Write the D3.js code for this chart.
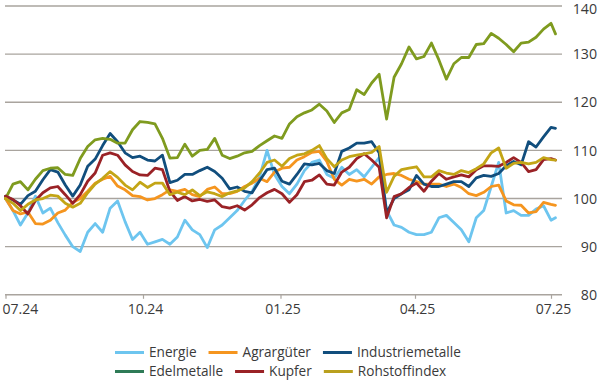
<!DOCTYPE html>
<html>
<head>
<meta charset="utf-8">
<script src="https://cdn.jsdelivr.net/npm/d3@7"></script>
<style>
  html, body { margin: 0; padding: 0; background: #ffffff; }
  svg { display: block; font-family: "Open Sans", "Noto Sans", sans-serif; }
</style>
</head>
<body>
<svg id="chart" width="600" height="380"></svg>
<script>
// ---- data ----
const dates = [
  "2024-07-01","2024-07-06","2024-07-11","2024-07-16","2024-07-21","2024-07-26","2024-07-31",
  "2024-08-05","2024-08-10","2024-08-15","2024-08-20","2024-08-25","2024-08-30",
  "2024-09-04","2024-09-09","2024-09-14","2024-09-19","2024-09-24","2024-09-29",
  "2024-10-04","2024-10-09","2024-10-14","2024-10-19","2024-10-24","2024-10-29",
  "2024-11-03","2024-11-08","2024-11-13","2024-11-18","2024-11-23","2024-11-28",
  "2024-12-03","2024-12-08","2024-12-13","2024-12-18","2024-12-23","2024-12-28",
  "2025-01-02","2025-01-07","2025-01-12","2025-01-17","2025-01-22","2025-01-27",
  "2025-02-01","2025-02-06","2025-02-11","2025-02-16","2025-02-21","2025-02-26",
  "2025-03-03","2025-03-08","2025-03-13","2025-03-18","2025-03-23","2025-03-28",
  "2025-04-02","2025-04-07","2025-04-12","2025-04-17","2025-04-22","2025-04-27",
  "2025-05-02","2025-05-07","2025-05-12","2025-05-17","2025-05-22","2025-05-27",
  "2025-06-01","2025-06-06","2025-06-11","2025-06-16","2025-06-21","2025-06-26",
  "2025-07-01","2025-07-04"
];

const energie = [100,97.5,94.5,97,100.5,97,98,95,92.4,90,89,93,94.8,93,98,99.5,95.2,91.5,93,
  90.5,91,91.5,90.5,92,95.5,93.5,92.5,89.8,93.5,94.5,96,97.5,99.6,101.5,104.5,110,105,102.5,
  101,103,105.8,107.5,108,105,104.2,106.5,105,106,104.5,106.5,108.5,97.5,94.5,94,93,92.5,
  92.5,93,96,96.5,95,93.5,91,96,97.5,102.5,107.5,97,97.5,96.5,96.5,97.8,98.5,95.5,96];

const agrargueter = [100,97.5,96.8,97.2,94.8,94.7,95.5,97,97.6,99.2,100,101.5,103.2,104,104.6,102.6,
  101.8,100.6,100.4,99.7,100,100.8,101.8,101.5,101.9,100.8,100.4,101.9,102.4,101,101,101.5,102.5,
  103.2,104.2,103.5,105.5,106.3,106.5,108,108.7,109.6,109.8,107.7,104,102.8,104,103.6,104,103,
  104.5,105,105.2,104.8,104,103.5,103,103,103,102.5,103,102.3,101,100.6,101.3,102.5,102.8,99.5,
  98.7,98.6,97,97.3,99.2,98.8,98.6];

const industriemetalle = [100.5,99.7,98.8,100.6,101.5,103.9,106,105.5,102.8,100.5,102.8,106.7,108.2,
  111,113.5,111.8,109.5,108.5,108.8,108,107.8,109,103.3,103.8,105,105,105.8,106.5,105.6,104.2,
  102,102.4,101.5,101.2,103.7,106,106.3,103.6,103,105,107.2,107,107.3,105.8,105.2,109.8,110.5,
  111.5,111.5,111.8,109.5,97,100,101,101.8,104.8,103,102.5,102.5,103,103.5,103.5,102.5,104.3,
  104.8,104.6,105.2,106.8,107.7,107,111.8,110.7,112.8,114.8,114.6];

const edelmetalle = [100,103,103.5,101.8,104,105.8,106.3,106.4,105,104.8,108.3,110.8,112.2,112.5,
  112.3,111.5,111.5,114.3,116,115.8,115.5,112.5,108.4,108.5,111.3,108.8,110,110.2,112.5,109,
  108.3,108.8,109.5,109.8,111,112,113,112.5,115.5,117,117.8,118.4,119.6,118.2,115.8,117.8,118.5,
  122.6,121.6,124,125.8,116.5,125.2,128,131.5,129,129.5,132.3,128.8,124.8,128,129.3,129.3,132,
  132.2,134.3,133.3,132,130.5,132.3,132.5,133.5,135.2,136.4,134.2];

const kupfer = [100.5,99.8,98.5,96.8,99.6,101.2,102.2,102.5,100.8,99,100.8,103.6,105.3,109,109.5,
  109,107,105.6,104.9,104.8,106.3,106,101.5,99.6,100.4,99.5,99.8,99.4,99.7,98.3,98,98.5,97.6,
  98.7,100.2,101.2,101.9,101,99.2,100.8,103.5,103.8,104.9,103,102.8,105.5,106.5,108.3,109.3,108,
  106.5,96,100.4,101,102.3,103.2,101.5,103.6,105.2,104,104.5,104.9,104.5,106,106.8,106.8,106.7,
  107.5,108.5,107.5,105.6,106,108.1,108.3,108];

const rohstoffindex = [100,99,97.5,98.8,99.7,100,100.7,100.5,99,98.2,99,101.2,103,104.2,105.6,104.4,
  102.8,101.8,103.4,102.3,103.2,103.2,100.8,101.3,100.8,101.8,100.6,101.4,101,100.4,101.2,101.6,
  102.2,103.5,105.3,107.5,108,106.7,108.3,109,109.3,110,111,108.3,106.6,108,108.7,109,109.3,109.6,
  110.8,101.3,104.6,106,106.3,106.6,104.5,104.5,105.8,105.3,105,105.8,105.4,106.2,107.2,109.5,
  110.5,106.3,107.3,107.5,107.2,107.5,108.5,108.1,108];

const seriesNames = ["Energie","Agrargüter","Industriemetalle","Edelmetalle","Kupfer","Rohstoffindex"];
const seriesValues = [energie, agrargueter, industriemetalle, edelmetalle, kupfer, rohstoffindex];
const lineColors = ["#6dc5ef","#f5951f","#114e7d","#7f9b1f","#9a2226","#c3a516"];
const legendColors = ["#6dc5ef","#f5951f","#114e7d","#2f7b57","#9a2226","#b9a01e"];

const yTicks = [80, 90, 100, 110, 120, 130, 140];
const xTickDates = ["2024-07-01","2024-10-01","2025-01-01","2025-04-01","2025-07-01"];
const xTickLabels = ["07.24","10.24","01.25","04.25","07.25"];

// ---- layout ----
const svg = d3.select("#chart");
const plotLeft = 5, plotRight = 562;
const parse = d3.timeParse("%Y-%m-%d");

const x = d3.scaleTime()
  .domain([parse("2024-07-01"), parse("2025-07-01")])
  .range([5.5, 551]);
const y = d3.scaleLinear().domain([80, 140]).range([294.8, 6]);

const textColor = "#3a3a3a";
const gridColor = "#a9a49e";

// gridlines
svg.append("g").selectAll("line")
  .data(yTicks.filter(t => t !== 80))
  .join("line")
  .attr("x1", plotLeft).attr("x2", plotRight)
  .attr("y1", d => y(d)).attr("y2", d => y(d))
  .attr("stroke", gridColor).attr("stroke-width", 1.4);

// y labels (right side)
svg.append("g").selectAll("text")
  .data(yTicks)
  .join("text")
  .attr("x", 597)
  .attr("y", d => Math.max(y(d), 8.5))
  .attr("dy", "0.36em")
  .attr("text-anchor", "end")
  .attr("font-size", 14.2)
  .attr("fill", textColor)
  .text(d => d);

// x axis
const xAxis = d3.axisBottom(x)
  .tickValues(xTickDates.map(parse))
  .tickFormat((d, i) => xTickLabels[i])
  .tickSize(4)
  .tickSizeOuter(0);

const gx = svg.append("g")
  .attr("transform", `translate(0,${y(80)})`)
  .call(xAxis);
gx.select(".domain").remove();
gx.append("line")
  .attr("x1", plotLeft).attr("x2", plotRight)
  .attr("y1", 0).attr("y2", 0)
  .attr("stroke", gridColor).attr("stroke-width", 1.4);
gx.selectAll(".tick line").attr("stroke", gridColor).attr("stroke-width", 1.2);
gx.selectAll(".tick text")
  .attr("font-size", 14)
  .attr("font-family", "Open Sans, Noto Sans, sans-serif")
  .attr("fill", textColor)
  .attr("y", 9)
  .attr("dx", (d, i) => i === 0 ? "0" : "2")
  .attr("text-anchor", (d, i) => i === 0 ? "start" : "middle")
  .attr("transform", (d, i) => i === 0 ? "translate(-3.5,0)" : null);

// lines
const line = d3.line()
  .x((d, i) => x(parse(dates[i])))
  .y(d => y(d))
  .curve(d3.curveLinear);

svg.append("g").selectAll("path")
  .data(seriesValues)
  .join("path")
  .attr("d", d => line(d))
  .attr("fill", "none")
  .attr("stroke", (d, i) => lineColors[i])
  .attr("stroke-width", 2.8)
  .attr("stroke-linejoin", "round")
  .attr("stroke-linecap", "round");

// legend (flow layout, 3 per row)
const legend = svg.append("g");
const rows = [[0, 1, 2], [3, 4, 5]];
const rowY = [352.5, 371.5];
rows.forEach((row, r) => {
  let cx = 115;
  row.forEach(idx => {
    legend.append("line")
      .attr("x1", cx).attr("x2", cx + 29)
      .attr("y1", rowY[r]).attr("y2", rowY[r])
      .attr("stroke", legendColors[idx]).attr("stroke-width", 3);
    const t = legend.append("text")
      .attr("x", cx + 34).attr("y", rowY[r])
      .attr("dy", "0.35em")
      .attr("font-size", 13.6)
      .attr("fill", textColor)
      .text(seriesNames[idx]);
    cx = cx + 34 + t.node().getComputedTextLength() + 12;
  });
});
</script>
</body>
</html>
